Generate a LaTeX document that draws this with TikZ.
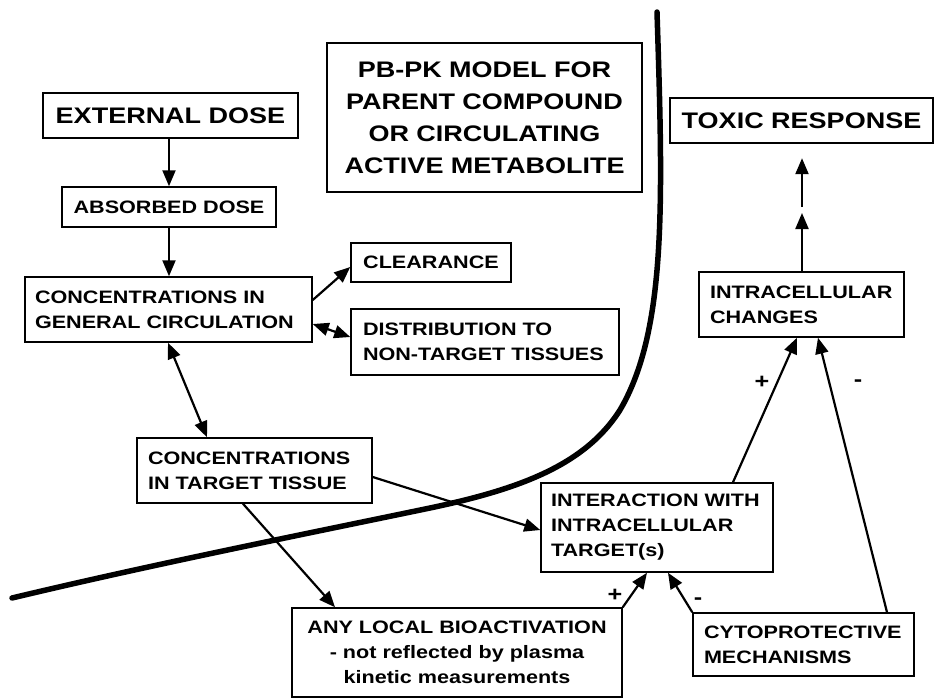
\documentclass[tikz,border=0pt]{standalone}
\usepackage{fontspec}
\setmainfont{Liberation Sans}[FakeStretch=1.2]
\usetikzlibrary{arrows.meta}

\begin{document}
\begin{tikzpicture}[x=1pt,y=-1pt,
  box/.style={draw, line width=1.5pt, inner ysep=0pt,
    font=\fontsize{18}{25}\selectfont\bfseries},
  lbox/.style={box, align=left},
  cbox/.style={box, align=center},
  heavy/.style={line width=2.4pt, font=\fontsize{22.5}{32}\selectfont\bfseries},
  link/.style={line width=2.2pt, -{Triangle[length=16pt,width=13pt]}},
  both/.style={line width=2.2pt,
    {Triangle[length=16pt,width=13pt]}-{Triangle[length=16pt,width=13pt]}},
  sign/.style={font=\fontsize{21}{21}\selectfont\bfseries, inner sep=0pt}]

\fill[white] (0,0) rectangle (935,699);
\useasboundingbox (0,0) rectangle (935,699);

% boundary between the kinetic and the dynamic part of the model
\draw[line width=5.5pt, line cap=round]
  (657,12) .. controls (663,200) and (667,330) .. (620,410)
           .. controls (585,465) and (520,489) .. (430,508)
           .. controls (300,535) and (150,565) .. (12,598);

% boxes
\node[cbox, heavy, minimum height=45pt, inner xsep=5pt, text width=245pt]
  (ext) at (170.5,115.5) {EXTERNAL~DOSE};
\node[cbox, minimum height=40pt, inner xsep=5pt, text width=204pt]
  (abs) at (169,207) {ABSORBED~DOSE};
\node[lbox, minimum height=65pt, inner xsep=10pt, text width=267pt]
  (gen) at (168.5,309.5) {CONCENTRATIONS~IN\\GENERAL~CIRCULATION};
\node[cbox, minimum height=39pt, inner xsep=5pt, text width=150pt]
  (clr) at (431,262.5) {CLEARANCE};
\node[lbox, minimum height=66pt, inner xsep=12pt, text width=244pt]
  (dist) at (485,342) {DISTRIBUTION~TO\\NON-TARGET~TISSUES};
\node[cbox, heavy, minimum height=149pt, inner xsep=5pt, text width=305pt]
  (pbpk) at (484.5,117.5) {PB-PK~MODEL~FOR\\PARENT~COMPOUND\\OR~CIRCULATING\\ACTIVE~METABOLITE};
\node[cbox, heavy, minimum height=45pt, inner xsep=5pt, text width=253pt]
  (tox) at (801.5,120.5) {TOXIC~RESPONSE};
\node[lbox, minimum height=65pt, inner xsep=11pt, text width=183pt]
  (chg) at (801.5,304.5) {INTRACELLULAR\\CHANGES};
\node[lbox, minimum height=65pt, inner xsep=11pt, text width=213pt]
  (tgt) at (254.5,470.5) {CONCENTRATIONS\\IN~TARGET~TISSUE};
\node[lbox, minimum height=89pt, inner xsep=10pt, text width=212pt]
  (inter) at (657,527.5) {INTERACTION~WITH\\INTRACELLULAR\\TARGET(s)};
\node[cbox, minimum height=89pt, inner xsep=5pt, text width=320pt]
  (local) at (457,652.5) {ANY~LOCAL~BIOACTIVATION\\- not~reflected~by~plasma\\kinetic~measurements};
\node[lbox, minimum height=63pt, inner xsep=11pt, text width=199pt]
  (cyto) at (803.5,644.5) {CYTOPROTECTIVE\\MECHANISMS};

% signs on the regulating arrows
\node[sign] (plusA) at (762,382) {+};
\node[sign] (minusA) at (858,383) {-};
\node[sign] (plusB) at (615,595) {+};
\node[sign] (minusB) at (698,601) {-};

% connectors
\draw[link] (abs.north |- ext.south) -- (abs.north);
\draw[link] (abs.south) -- (abs.south |- gen.north);
\draw[link] (gen.east |- 0,300) -- (clr.west |- 0,267);
\draw[both] (gen.east |- 0,324) -- (dist.west |- 0,337);
\draw[both] (gen.south -| 168,0) -- (tgt.north -| 207,0);
\draw[link] (tgt.south -| 243,0) -- (local.north -| 335,0);
\draw[link] (tgt.east |- 0,477) -- (inter.west |- 0,530);
\draw[link] (local.north east) -- (inter.south -| 647,0);
\draw[link] (cyto.north west) -- (inter.south -| 668,0);
\draw[link] (inter.north -| 733,0) -- (chg.south -| 797,0);
\draw[link] (cyto.north -| 887,0) -- (chg.south -| 818,0);
\coordinate (gapLow) at (802,213);
\coordinate (gapHigh) at (802,207);
\draw[link] (chg.north -| 802,0) -- (gapLow);
\draw[link, shorten >=14pt] (gapHigh) -- (tox.south -| 802,0);
\end{tikzpicture}
\end{document}
